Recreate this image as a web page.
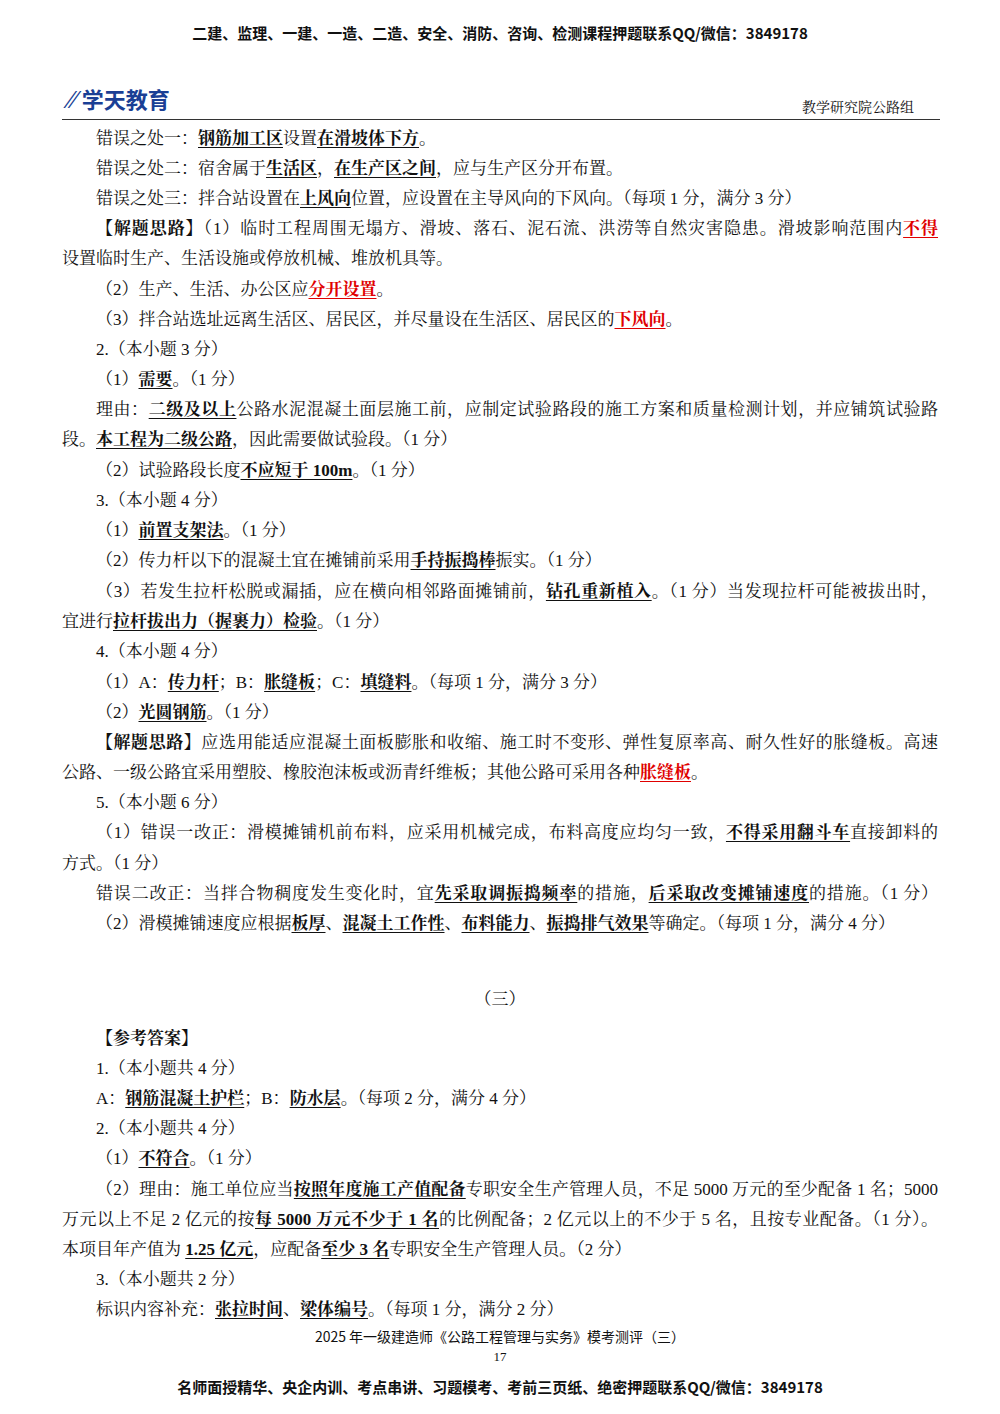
<!DOCTYPE html>
<html><head><meta charset="utf-8">
<script src="https://cdn.jsdelivr.net/npm/chart.js@4"></script>
<style>
body{margin:0;width:1000px;height:1414px;background:#fff;position:relative;font-family:"Liberation Serif","Noto Serif CJK SC","Noto Sans CJK SC",serif;color:#111;overflow:hidden}
.l{position:absolute;font-size:17px;line-height:24px;white-space:nowrap}
.j{text-align:justify;text-align-last:justify;width:876px;left:62px}
b{font-weight:bold;text-decoration:underline;text-underline-offset:3px}
.r{color:#e00000}
.hdr{position:absolute;top:22px;width:1000px;text-align:center;font-family:"Noto Sans CJK SC",sans-serif;font-weight:bold;font-size:15px}
</style></head><body>
<div class="hdr">二建、监理、一建、一造、二造、安全、消防、咨询、检测课程押题联系QQ/微信：3849178</div>
<div style="position:absolute;left:68px;top:78px;font-family:'Noto Sans CJK SC';font-weight:bold;font-size:22px;color:#1a3f95"><span style="font-style:italic;font-size:26px">⁄⁄</span> 学天教育</div>
<div style="position:absolute;left:802px;top:96px;font-size:14px">教学研究院公路组</div>
<div style="position:absolute;left:62px;top:119px;width:878px;border-top:1px solid #333"></div>
<div id="body"></div>
<div style="position:absolute;top:1326px;width:1000px;text-align:center;font-size:14px;font-family:'Noto Sans CJK SC'">2025 年一级建造师《公路工程管理与实务》模考测评（三）</div>
<div style="position:absolute;top:1349px;width:1000px;text-align:center;font-size:13px">17</div>
<div class="hdr" style="top:1376px">名师面授精华、央企内训、考点串讲、习题模考、考前三页纸、绝密押题联系QQ/微信：3849178</div>
<script>
const lineTops=[139,169,199,229,259,290,320,350,380,410,440,471,501,531,561,592,622,652,683,713,743,773,803,833,864,894,924,1000,1039,1069,1099,1129,1159,1190,1220,1250,1280,1310];
const lineIndent=[1,1,1,1,0,1,1,1,1,1,0,1,1,1,1,1,0,1,1,1,1,0,1,1,0,1,1,2,1,1,1,1,1,1,0,0,1,1];
const lineJust=[0,0,0,1,0,0,0,0,0,1,0,0,0,0,0,1,0,0,0,0,1,0,0,1,0,1,0,0,0,0,0,0,0,1,1,0,0,0];
const lineHtml=[
'错误之处一：<b>钢筋加工区</b>设置<b>在滑坡体下方</b>。',
'错误之处二：宿舍属于<b>生活区</b>，<b>在生产区之间</b>，应与生产区分开布置。',
'错误之处三：拌合站设置在<b>上风向</b>位置，应设置在主导风向的下风向。（每项 1 分，满分 3 分）',
'<strong>【解题思路】</strong>（1）临时工程周围无塌方、滑坡、落石、泥石流、洪涝等自然灾害隐患。滑坡影响范围内<b class="r">不得</b>',
'设置临时生产、生活设施或停放机械、堆放机具等。',
'（2）生产、生活、办公区应<b class="r">分开设置</b>。',
'（3）拌合站选址远离生活区、居民区，并尽量设在生活区、居民区的<b class="r">下风向</b>。',
'2.（本小题 3 分）',
'（1）<b>需要</b>。（1 分）',
'理由：<b>二级及以上</b>公路水泥混凝土面层施工前，应制定试验路段的施工方案和质量检测计划，并应铺筑试验路',
'段。<b>本工程为二级公路</b>，因此需要做试验段。（1 分）',
'（2）试验路段长度<b>不应短于 100m</b>。（1 分）',
'3.（本小题 4 分）',
'（1）<b>前置支架法</b>。（1 分）',
'（2）传力杆以下的混凝土宜在摊铺前采用<b>手持振捣棒</b>振实。（1 分）',
'（3）若发生拉杆松脱或漏插，应在横向相邻路面摊铺前，<b>钻孔重新植入</b>。（1 分）当发现拉杆可能被拔出时，',
'宜进行<b>拉杆拔出力（握裹力）检验</b>。（1 分）',
'4.（本小题 4 分）',
'（1）A：<b>传力杆</b>；B：<b>胀缝板</b>；C：<b>填缝料</b>。（每项 1 分，满分 3 分）',
'（2）<b>光圆钢筋</b>。（1 分）',
'<strong>【解题思路】</strong>应选用能适应混凝土面板膨胀和收缩、施工时不变形、弹性复原率高、耐久性好的胀缝板。高速',
'公路、一级公路宜采用塑胶、橡胶泡沫板或沥青纤维板；其他公路可采用各种<b class="r">胀缝板</b>。',
'5.（本小题 6 分）',
'（1）错误一改正：滑模摊铺机前布料，应采用机械完成，布料高度应均匀一致，<b>不得采用翻斗车</b>直接卸料的',
'方式。（1 分）',
'错误二改正：当拌合物稠度发生变化时，宜<b>先采取调振捣频率</b>的措施，<b>后采取改变摊铺速度</b>的措施。（1 分）',
'（2）滑模摊铺速度应根据<b>板厚</b>、<b>混凝土工作性</b>、<b>布料能力</b>、<b>振捣排气效果</b>等确定。（每项 1 分，满分 4 分）',
'（三）',
'<strong>【参考答案】</strong>',
'1.（本小题共 4 分）',
'A：<b>钢筋混凝土护栏</b>；B：<b>防水层</b>。（每项 2 分，满分 4 分）',
'2.（本小题共 4 分）',
'（1）<b>不符合</b>。（1 分）',
'（2）理由：施工单位应当<b>按照年度施工产值配备</b>专职安全生产管理人员，不足 5000 万元的至少配备 1 名；5000',
'万元以上不足 2 亿元的按<b>每 5000 万元不少于 1 名</b>的比例配备；2 亿元以上的不少于 5 名，且按专业配备。（1 分）。',
'本项目年产值为 <b>1.25 亿元</b>，应配备<b>至少 3 名</b>专职安全生产管理人员。（2 分）',
'3.（本小题共 2 分）',
'标识内容补充：<b>张拉时间</b>、<b>梁体编号</b>。（每项 1 分，满分 2 分）'];
const box=document.getElementById('body');
lineHtml.forEach((h,i)=>{
  const d=document.createElement('div');
  d.className='l'+(lineJust[i]?' j':'');
  d.innerHTML=h;
  d.style.top=(lineTops[i]-12)+'px';
  if(lineIndent[i]===2){d.style.left='0';d.style.width='1000px';d.style.textAlign='center';}
  else if(lineJust[i]){ if(lineIndent[i]){d.style.left='96px';d.style.width='842px';} }
  else d.style.left=(lineIndent[i]?96:62)+'px';
  box.appendChild(d);
});
</script>
</body></html>
